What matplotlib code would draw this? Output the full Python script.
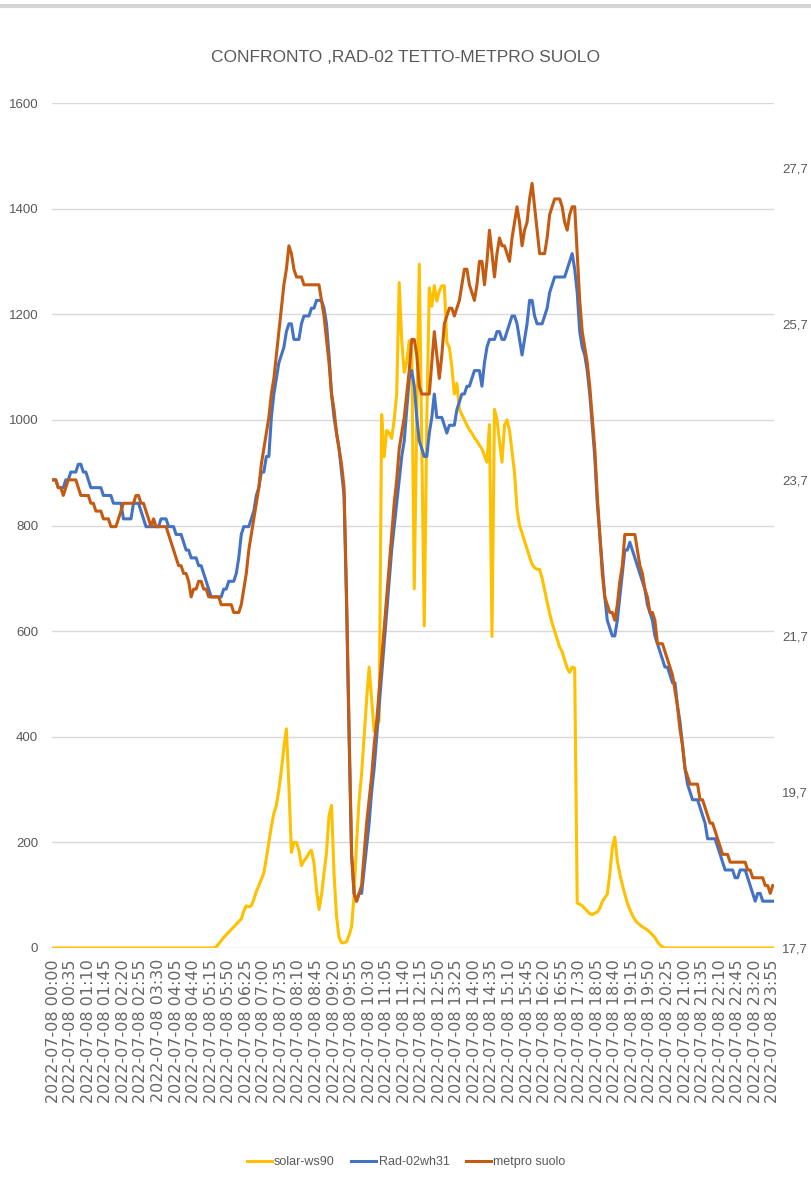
import pandas as pd
import matplotlib
matplotlib.use("Agg")
import matplotlib.pyplot as plt
from matplotlib.lines import Line2D

# 5-minute samples over 2022-07-08 (288 points), one row per hour
times = pd.date_range("2022-07-08 00:00", periods=288, freq="5min")
tick_labels = [t.strftime("%Y-%m-%d %H:%M") for t in times[::7]]

# solar-ws90 radiation (W/m2, left axis)
solar_ws90 = [
    0, 0, 0, 0, 0, 0, 0, 0, 0, 0, 0, 0,
    0, 0, 0, 0, 0, 0, 0, 0, 0, 0, 0, 0,
    0, 0, 0, 0, 0, 0, 0, 0, 0, 0, 0, 0,
    0, 0, 0, 0, 0, 0, 0, 0, 0, 0, 0, 0,
    0, 0, 0, 0, 0, 0, 0, 0, 0, 0, 0, 0,
    0, 0, 0, 0, 0, 2, 8, 14, 20, 25, 30, 35,
    40, 45, 50, 55, 70, 80, 78, 80, 92, 107, 118, 130,
    142, 170, 200, 230, 255, 270, 300, 337, 380, 415, 307, 181,
    200, 200, 185, 156, 165, 171, 180, 185, 161, 110, 73, 100,
    142, 180, 250, 270, 140, 60, 20, 10, 10, 12, 24, 40,
    100, 200, 280, 330, 400, 470, 532, 470, 410, 420, 430, 1010,
    930, 980, 975, 965, 1000, 1050, 1260, 1150, 1090, 1110, 1150, 1130,
    680, 1000, 1295, 950, 610, 1000, 1250, 1215, 1254, 1225, 1244, 1254,
    1254, 1147, 1137, 1100, 1049, 1069, 1020, 1010, 1000, 990, 981, 975,
    966, 960, 952, 945, 932, 920, 991, 590, 1020, 1000, 960, 920,
    990, 1000, 980, 940, 900, 830, 800, 786, 770, 756, 740, 727,
    720, 717, 717, 700, 678, 655, 634, 615, 600, 585, 570, 561,
    545, 530, 522, 532, 530, 85, 83, 80, 75, 70, 65, 63,
    66, 68, 75, 88, 95, 102, 140, 190, 210, 165, 140, 120,
    102, 85, 73, 62, 54, 48, 44, 40, 37, 34, 30, 25,
    20, 12, 6, 2, 0, 0, 0, 0, 0, 0, 0, 0,
    0, 0, 0, 0, 0, 0, 0, 0, 0, 0, 0, 0,
    0, 0, 0, 0, 0, 0, 0, 0, 0, 0, 0, 0,
    0, 0, 0, 0, 0, 0, 0, 0, 0, 0, 0, 0,
]

# Rad-02wh31 temperature (right axis)
rad_02wh31 = [
    23.7, 23.7, 23.6, 23.6, 23.6, 23.7, 23.7, 23.8, 23.8, 23.8, 23.9, 23.9,
    23.8, 23.8, 23.7, 23.6, 23.6, 23.6, 23.6, 23.6, 23.5, 23.5, 23.5, 23.5,
    23.4, 23.4, 23.4, 23.4, 23.2, 23.2, 23.2, 23.2, 23.4, 23.4, 23.4, 23.3,
    23.2, 23.1, 23.1, 23.1, 23.1, 23.1, 23.1, 23.2, 23.2, 23.2, 23.1, 23.1,
    23.1, 23.0, 23.0, 23.0, 22.9, 22.8, 22.8, 22.7, 22.7, 22.7, 22.6, 22.6,
    22.5, 22.4, 22.3, 22.2, 22.2, 22.2, 22.2, 22.2, 22.3, 22.3, 22.4, 22.4,
    22.4, 22.5, 22.7, 23.0, 23.1, 23.1, 23.1, 23.2, 23.3, 23.5, 23.6, 23.8,
    23.8, 24.0, 24.0, 24.5, 24.8, 25.0, 25.2, 25.3, 25.4, 25.6, 25.7, 25.7,
    25.5, 25.5, 25.5, 25.7, 25.8, 25.8, 25.8, 25.9, 25.9, 26.0, 26.0, 26.0,
    25.9, 25.7, 25.3, 24.8, 24.5, 24.3, 24.1, 23.8, 23.5, 22.1, 20.4, 18.9,
    18.4, 18.3, 18.4, 18.4, 18.7, 19.0, 19.3, 19.7, 20.0, 20.4, 20.8, 21.2,
    21.6, 22.0, 22.4, 22.8, 23.1, 23.4, 23.7, 24.0, 24.2, 24.6, 25.0, 25.1,
    24.9, 24.5, 24.2, 24.1, 24.0, 24.0, 24.3, 24.5, 24.8, 24.5, 24.5, 24.5,
    24.4, 24.3, 24.4, 24.4, 24.4, 24.6, 24.7, 24.8, 24.8, 24.9, 24.9, 25.0,
    25.1, 25.1, 25.1, 24.9, 25.2, 25.4, 25.5, 25.5, 25.5, 25.6, 25.6, 25.5,
    25.5, 25.6, 25.7, 25.8, 25.8, 25.7, 25.5, 25.3, 25.5, 25.7, 26.0, 26.0,
    25.8, 25.7, 25.7, 25.7, 25.8, 25.9, 26.1, 26.2, 26.3, 26.3, 26.3, 26.3,
    26.3, 26.4, 26.5, 26.6, 26.4, 26.1, 25.6, 25.4, 25.3, 25.1, 24.8, 24.4,
    24.0, 23.4, 23.0, 22.6, 22.2, 21.9, 21.8, 21.7, 21.7, 21.9, 22.2, 22.5,
    22.8, 22.8, 22.9, 22.8, 22.7, 22.6, 22.5, 22.4, 22.3, 22.1, 22.0, 21.9,
    21.7, 21.6, 21.5, 21.4, 21.3, 21.3, 21.2, 21.1, 21.1, 20.8, 20.6, 20.3,
    20.0, 19.8, 19.7, 19.6, 19.6, 19.6, 19.5, 19.4, 19.3, 19.1, 19.1, 19.1,
    19.1, 19.0, 18.9, 18.8, 18.7, 18.7, 18.7, 18.7, 18.6, 18.6, 18.7, 18.7,
    18.7, 18.6, 18.5, 18.4, 18.3, 18.4, 18.4, 18.3, 18.3, 18.3, 18.3, 18.3,
]

# metpro suolo temperature (right axis)
metpro_suolo = [
    23.7, 23.7, 23.6, 23.6, 23.5, 23.6, 23.7, 23.7, 23.7, 23.7, 23.6, 23.5,
    23.5, 23.5, 23.5, 23.4, 23.4, 23.3, 23.3, 23.3, 23.2, 23.2, 23.2, 23.1,
    23.1, 23.1, 23.2, 23.3, 23.4, 23.4, 23.4, 23.4, 23.4, 23.5, 23.5, 23.4,
    23.4, 23.3, 23.2, 23.1, 23.2, 23.1, 23.1, 23.1, 23.1, 23.1, 23.0, 22.9,
    22.8, 22.7, 22.6, 22.6, 22.5, 22.5, 22.4, 22.2, 22.3, 22.3, 22.4, 22.4,
    22.3, 22.3, 22.2, 22.2, 22.2, 22.2, 22.2, 22.1, 22.1, 22.1, 22.1, 22.1,
    22.0, 22.0, 22.0, 22.1, 22.3, 22.5, 22.8, 23.0, 23.2, 23.4, 23.6, 23.9,
    24.1, 24.3, 24.5, 24.8, 25.0, 25.3, 25.6, 25.9, 26.2, 26.4, 26.7, 26.6,
    26.4, 26.3, 26.3, 26.3, 26.2, 26.2, 26.2, 26.2, 26.2, 26.2, 26.2, 26.0,
    25.8, 25.5, 25.2, 24.8, 24.6, 24.3, 24.1, 23.9, 23.6, 22.2, 20.5, 18.9,
    18.4, 18.3, 18.4, 18.5, 18.9, 19.3, 19.6, 19.9, 20.3, 20.6, 21.0, 21.4,
    21.8, 22.2, 22.6, 23.0, 23.4, 23.7, 24.1, 24.3, 24.5, 24.8, 25.1, 25.5,
    25.5, 25.3, 24.9, 24.8, 24.8, 24.8, 24.8, 25.2, 25.6, 25.3, 25.0, 25.3,
    25.7, 25.8, 25.9, 25.9, 25.8, 25.9, 26.0, 26.2, 26.4, 26.4, 26.2, 26.1,
    26.0, 26.2, 26.5, 26.5, 26.2, 26.5, 26.9, 26.6, 26.3, 26.6, 26.8, 26.7,
    26.7, 26.6, 26.5, 26.8, 27.0, 27.2, 27.0, 26.7, 26.9, 27.0, 27.3, 27.5,
    27.2, 26.9, 26.6, 26.6, 26.6, 26.8, 27.1, 27.2, 27.3, 27.3, 27.3, 27.2,
    27.0, 26.9, 27.1, 27.2, 27.2, 26.6, 26.0, 25.6, 25.4, 25.2, 24.9, 24.5,
    24.1, 23.5, 23.0, 22.5, 22.2, 22.1, 22.0, 22.0, 21.9, 22.1, 22.4, 22.6,
    23.0, 23.0, 23.0, 23.0, 23.0, 22.8, 22.6, 22.5, 22.3, 22.2, 22.0, 22.0,
    21.9, 21.6, 21.6, 21.6, 21.5, 21.4, 21.3, 21.2, 21.0, 20.8, 20.5, 20.3,
    20.0, 19.9, 19.8, 19.8, 19.8, 19.8, 19.6, 19.6, 19.5, 19.4, 19.3, 19.3,
    19.2, 19.1, 19.0, 18.9, 18.9, 18.9, 18.8, 18.8, 18.8, 18.8, 18.8, 18.8,
    18.8, 18.7, 18.7, 18.6, 18.6, 18.6, 18.6, 18.6, 18.5, 18.5, 18.4, 18.5,
]

left_ticks = [0, 200, 400, 600, 800, 1000, 1200, 1400, 1600]
right_ticks = [17.7, 19.7, 21.7, 23.7, 25.7, 27.7]

GREY = "#595959"
FONT = "Liberation Sans"

W, H = 812, 1180
fig = plt.figure(figsize=(W / 100, H / 100), dpi=100)
ax = fig.add_axes([52 / W, 1 - 948 / H, (774 - 52) / W, (948 - 103) / H])

x = list(range(len(times)))
ax.plot(x, solar_ws90, color="#FFC000", lw=2.2, label="solar-ws90")
ax.set_xlim(-0.5, len(times) - 0.5)
ax.set_ylim(0, 1600)
ax.set_yticks(left_ticks)
ax.set_yticklabels([str(v) for v in left_ticks], family=FONT, fontsize=9.5, color=GREY)
ax.grid(axis="y", color="#D9D9D9", lw=1)
ax.set_axisbelow(True)
ax.set_xticks(x[::7])
ax.set_xticklabels(tick_labels, rotation=90, fontsize=11.5, color="#666666",
                   family="DejaVu Sans")
ax.tick_params(axis="both", length=0)
ax.tick_params(axis="y", pad=10)
ax.tick_params(axis="x", pad=8)
for s in ax.spines.values():
    s.set_visible(False)

ax2 = ax.twinx()
ax2.plot(x, rad_02wh31, color="#4472C4", lw=2.2, label="Rad-02wh31")
ax2.plot(x, metpro_suolo, color="#C55A11", lw=2.2, label="metpro suolo")
ax2.set_ylim(17.7, 28.53)
ax2.set_yticks(right_ticks)
ax2.set_yticklabels([f"{v:.1f}".replace(".", ",") for v in right_ticks],
                    family=FONT, fontsize=9.5, color=GREY)
ax2.tick_params(axis="y", length=0, pad=6)
for s in ax2.spines.values():
    s.set_visible(False)

fig.text(0.5, 1 - 57 / H, "CONFRONTO ,RAD-02 TETTO-METPRO SUOLO",
         ha="center", va="center", fontsize=12.5, color=GREY, family=FONT)

handles = ax.get_lines() + ax2.get_lines()
fig.legend(handles, [h.get_label() for h in handles], loc="center",
           bbox_to_anchor=(0.5, 1 - 1162 / H), ncol=3, frameon=False,
           handlelength=2.0, columnspacing=1.3, handletextpad=0.2,
           prop={"family": FONT, "size": 9}, labelcolor=GREY)

fig.add_artist(Line2D([0, 1], [1 - 6 / H, 1 - 6 / H], color="#D6D6D6", lw=3,
                      transform=fig.transFigure))

fig.savefig("out.png", dpi=100)
